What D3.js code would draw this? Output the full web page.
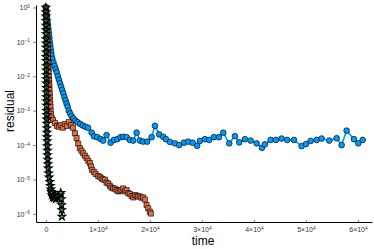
<!DOCTYPE html>
<html>
<head>
<meta charset="utf-8">
<script src="https://cdn.jsdelivr.net/npm/d3@7"></script>
<style>
  body { margin: 0; background: #fff; }
  text { font-family: "Liberation Sans", "DejaVu Sans", sans-serif; }
</style>
</head>
<body>
<div id="chart"></div>
<script>
// Series values
const blueTime = [0, 75, 150, 225, 300, 375, 450, 525, 600, 675, 750, 830, 910, 1000, 1080, 1250, 1460, 1670, 1880, 2090,
  2300, 2510, 2720, 2930, 3140, 3350, 3560, 3770, 3980, 4190, 4400, 4650, 4950, 5300, 5700, 6100, 6600, 7100, 7600, 8100,
  8790, 9230, 9870, 10520, 11020, 11670, 12440, 13080, 13710, 14370, 14860, 15520, 16150, 16790, 17440, 18080, 18710, 19480,
  20330, 20960, 21790, 22560, 23080, 23850, 24810, 25630, 26540, 27360, 28210, 29090, 29610, 30580, 31400, 32310, 33270,
  34100, 35250, 36350, 37170, 38270, 39360, 40520, 41540, 42110, 43210, 44230, 45320, 46400, 47690, 49170, 50000, 50900,
  52060, 53020, 54480, 55900, 56860, 57820, 59230, 60060, 60900];
const blueResidual = [1, 7.9e-1, 6.3e-1, 5.0e-1, 4.0e-1, 3.2e-1, 2.5e-1, 2.0e-1, 1.6e-1, 1.3e-1, 1.0e-1, 7.9e-2, 6.3e-2, 5.0e-2,
  4.0e-2, 3.2e-2, 2.5e-2, 2.0e-2, 1.6e-2, 1.3e-2, 1.0e-2, 7.9e-3, 6.3e-3, 5.0e-3, 4.0e-3, 3.2e-3, 2.5e-3, 2.0e-3, 1.6e-3,
  1.3e-3, 1.0e-3, 8.3e-4, 6.9e-4, 5.9e-4, 5.1e-4, 4.6e-4, 4.1e-4, 3.7e-4, 3.4e-4, 3.2e-4,
  2.3e-4, 1.8e-4, 1.7e-4, 1.5e-4, 1.35e-4, 1.95e-4, 1.17e-4, 1.41e-4, 1.48e-4, 1.70e-4, 1.74e-4, 1.70e-4, 1.41e-4, 1.35e-4,
  2.29e-4, 1.35e-4, 1.26e-4, 1.26e-4, 1.70e-4, 3.63e-4, 2.04e-4, 1.74e-4, 1.48e-4, 1.23e-4, 1.12e-4, 1.00e-4, 1.17e-4,
  1.26e-4, 1.17e-4, 9.5e-5, 1.32e-4, 1.48e-4, 1.41e-4, 1.70e-4, 1.70e-4, 2.29e-4, 1.12e-4, 1.82e-4, 1.20e-4, 1.48e-4,
  1.35e-4, 1.12e-4, 8.3e-5, 1.05e-4, 1.41e-4, 1.41e-4, 1.55e-4, 1.41e-4, 1.41e-4, 9.3e-5, 1.07e-4, 1.32e-4, 1.41e-4,
  1.55e-4, 1.35e-4, 1.58e-4, 1.00e-4, 2.63e-4, 1.48e-4, 1.12e-4, 1.41e-4];

const orangeTime = [0, 28, 56, 84, 112, 140, 168, 196, 224, 252, 280, 308, 336, 364, 392, 420, 450, 480, 510, 540, 570, 600,
  630, 660, 690, 720, 750, 790, 830, 870, 910, 960, 1100, 1350, 1730, 2120, 2500, 2880, 3270, 3650, 4040, 4420, 4810, 5190,
  5580, 5900, 6210, 6540, 6850, 7170, 7500, 7830, 8150, 8460, 8680, 8900, 9230, 9560, 10060, 10380, 10710, 11030, 11350,
  11670, 12000, 12310, 12620, 12940, 13270, 13600, 13920, 14230, 14540, 14860, 15200, 15520, 15830, 16150, 16480, 16800,
  17110, 17430, 17750, 18070, 18390, 18710, 19040, 19360, 19670, 20000, 20190];
const orangeResidual = [1, 7.9e-1, 6.3e-1, 5.0e-1, 4.0e-1, 3.2e-1, 2.5e-1, 2.0e-1, 1.6e-1, 1.3e-1, 1.0e-1, 7.9e-2, 6.3e-2,
  5.0e-2, 4.0e-2, 3.2e-2, 2.5e-2, 2.0e-2, 1.6e-2, 1.3e-2, 1.0e-2, 7.9e-3, 6.3e-3, 5.0e-3, 4.0e-3, 3.2e-3, 2.5e-3, 2.0e-3,
  1.6e-3, 1.3e-3, 1.0e-3, 7.9e-4, 6.3e-4, 5.4e-4, 4.4e-4, 3.6e-4, 3.4e-4, 3.8e-4, 3.2e-4, 4.1e-4, 3.6e-4, 4.7e-4, 3.8e-4,
  3.2e-4, 2.2e-4, 1.6e-4, 1.1e-4, 8.1e-5, 6.8e-5, 5.8e-5, 4.9e-5, 4.2e-5, 3.5e-5, 3.0e-5, 2.4e-5, 1.9e-5, 1.66e-5, 1.45e-5,
  1.26e-5, 1.2e-5, 1.07e-5, 1.0e-5, 9.8e-6, 8.1e-6, 7.6e-6, 6.5e-6, 5.8e-6, 5.5e-6, 5.4e-6, 4.9e-6, 4.5e-6, 4.7e-6, 5.0e-6,
  5.5e-6, 4.5e-6, 4.9e-6, 4.0e-6, 3.8e-6, 3.3e-6, 3.0e-6, 3.5e-6, 3.4e-6, 3.2e-6, 3.2e-6, 2.95e-6, 3.0e-6, 2.6e-6, 1.8e-6,
  1.45e-6, 1.15e-6, 1.02e-6];

const greenTime = [0, 5, 10, 16, 21, 26, 31, 36, 42, 47, 52, 57, 62, 68, 73, 78, 84, 90, 97, 104, 110, 117, 123, 130, 145,
  160, 175, 190, 205, 220, 240, 260, 290, 320, 360, 400, 460, 530, 630, 770, 865, 960, 1060, 1150, 1250, 1350, 1440, 1540,
  1730, 1920, 2120, 2310, 2500, 2690, 2880, 2980, 3020, 3060, 3080];
const greenResidual = [1, 7.4e-1, 5.5e-1, 4.1e-1, 3.0e-1, 2.2e-1, 1.7e-1, 1.2e-1, 9.1e-2, 6.8e-2, 5.0e-2, 3.7e-2, 2.8e-2,
  2.0e-2, 1.5e-2, 1.1e-2, 8.3e-3, 6.2e-3, 4.6e-3, 3.4e-3, 2.5e-3, 1.9e-3, 1.4e-3, 1.0e-3, 7.6e-4, 5.6e-4, 4.2e-4, 3.1e-4,
  2.3e-4, 1.7e-4, 1.3e-4, 9.3e-5, 6.9e-5, 5.1e-5, 3.8e-5, 2.8e-5, 2.1e-5, 1.5e-5, 1.15e-5, 8.5e-6, 6.5e-6, 5.2e-6, 4.4e-6,
  3.5e-6, 4.1e-6, 3.1e-6, 3.5e-6, 2.9e-6, 3.3e-6, 2.7e-6, 3.1e-6, 3.3e-6, 2.9e-6, 3.5e-6, 4.1e-6, 2.7e-6, 1.8e-6, 1.3e-6,
  8.3e-7];

const xTicks = [0, 10000, 20000, 30000, 40000, 50000, 60000];
const xTickLabels = [["0", ""], ["1×10", "4"], ["2×10", "4"], ["3×10", "4"], ["4×10", "4"], ["5×10", "4"], ["6×10", "4"]];
const yTicks = [1, 1e-1, 1e-2, 1e-3, 1e-4, 1e-5, 1e-6];
const yTickLabels = [["10", "0"], ["10", "−1"], ["10", "−2"], ["10", "−3"], ["10", "−4"], ["10", "−5"], ["10", "−6"]];

const config = {
    width: 374,
    height: 249,
    left: 36,
    right: 372,
    top: 5,
    bottom: 222
};

const series = [
    { time: blueTime, residual: blueResidual, color: "#009afa", marker: "circle" },
    { time: orangeTime, residual: orangeResidual, color: "#e26f46", marker: "square" },
    { time: greenTime, residual: greenResidual, color: "#3ea44e", marker: "star" }
];

const svg = d3.select("#chart")
    .append("svg")
    .attr("width", config.width)
    .attr("height", config.height);

const x = d3.scaleLinear().domain([-1900, 62700]).range([config.left, config.right]);
const y = d3.scaleLog().domain([5.8e-7, 1.18]).range([config.bottom, config.top]);

// superscript labels like 10^-3
const supLabel = (sel, parts) => {
    sel.each(function(d, i) {
        const t = d3.select(this).text(null);
        const [base, exp] = parts[i];
        t.append("tspan").text(base);
        if (exp) {
            t.append("tspan")
                .attr("dy", "-0.45em")
                .attr("font-size", "4.8px")
                .text(exp);
        }
    });
};

// axes
const xAxis = svg.append("g")
    .attr("transform", `translate(0,${config.bottom})`)
    .call(d3.axisBottom(x).tickValues(xTicks).tickSizeInner(-2).tickSizeOuter(0).tickPadding(5));

const yAxis = svg.append("g")
    .attr("transform", `translate(${config.left},0)`)
    .call(d3.axisLeft(y).tickValues(yTicks).tickSizeInner(3).tickSizeOuter(0).tickPadding(3));

[xAxis, yAxis].forEach(g => {
    g.select(".domain").attr("stroke", "#000").attr("stroke-width", 1);
    g.selectAll(".tick line").attr("stroke", "#555").attr("stroke-width", 0.7);
    g.selectAll(".tick text").attr("fill", "#333").attr("font-size", "7px");
});
xAxis.selectAll(".tick text").call(supLabel, xTickLabels);
yAxis.selectAll(".tick text").call(supLabel, yTickLabels);

// axis titles
svg.append("text")
    .attr("x", 203)
    .attr("y", 245)
    .attr("text-anchor", "middle")
    .attr("font-size", "12px")
    .attr("fill", "#000")
    .text("time");

svg.append("text")
    .attr("transform", "translate(14,111) rotate(-90)")
    .attr("text-anchor", "middle")
    .attr("font-size", "12px")
    .attr("fill", "#000")
    .text("residual");

// lines + markers
const line = d3.line().x(d => x(d[0])).y(d => y(d[1]));
const symbols = {
    circle: d3.symbol().type(d3.symbolCircle).size(26),
    square: d3.symbol().type(d3.symbolSquare).size(26),
    star: d3.symbol().type(d3.symbolStar).size(18)
};

series.forEach(s => {
    const pts = s.time.map((t, i) => [t, s.residual[i]]);
    const g = svg.append("g");
    g.append("path")
        .datum(pts)
        .attr("fill", "none")
        .attr("stroke", s.color)
        .attr("stroke-width", 1.6)
        .attr("d", line);
    g.selectAll("path.mk")
        .data(pts)
        .join("path")
        .attr("class", "mk")
        .attr("transform", d => `translate(${x(d[0])},${y(d[1])})`)
        .attr("d", symbols[s.marker])
        .attr("fill", s.color)
        .attr("stroke", "#000")
        .attr("stroke-opacity", s.marker === "star" ? 1 : 0.8)
        .attr("stroke-width", s.marker === "star" ? 1.1 : 0.8);
});
</script>
</body>
</html>
